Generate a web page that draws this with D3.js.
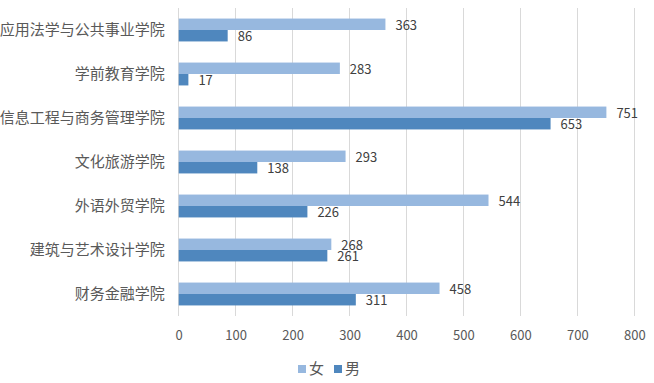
<!DOCTYPE html>
<html><head><meta charset="utf-8">
<script src="https://cdn.jsdelivr.net/npm/d3@7"></script>
<style>body{margin:0;background:#fff}svg{display:block}text{font-family:"Noto Sans CJK SC","Noto Sans",sans-serif}</style>
</head><body><svg id="c" width="654" height="383"></svg>
<script>
const categories = ["应用法学与公共事业学院","学前教育学院","信息工程与商务管理学院","文化旅游学院","外语外贸学院","建筑与艺术设计学院","财务金融学院"];
const female = [363,283,751,293,544,268,458];
const male = [86,17,653,138,226,261,311];
const seriesNames = ["女","男"];
const colors = ["#97B8DF","#4F87BE"];
const ticks = [0,100,200,300,400,500,600,700,800];

(function(){
const svg = d3.select("#c");
const pL = 178.7, pR = 634.3, pT = 8, pB = 316;
const x = d3.scaleLinear().domain([0,800]).range([pL,pR]);
const y = d3.scaleBand().domain(categories).range([pT,pB]).paddingInner(0.48).paddingOuter(0.24);
const sub = d3.scaleBand().domain(seriesNames).range([0,y.bandwidth()]);

svg.append("g").selectAll("line").data(ticks).join("line")
  .attr("x1",d=>x(d)).attr("x2",d=>x(d)).attr("y1",pT).attr("y2",pB)
  .attr("stroke","#D9D9D9").attr("stroke-width",1).attr("shape-rendering","crispEdges");

const xa = svg.append("g").attr("transform",`translate(0,${pB})`)
  .call(d3.axisBottom(x).tickValues(ticks).tickSize(0).tickPadding(15));
xa.select(".domain").remove();
xa.selectAll("text").attr("font-size","13px").attr("fill","#595959").attr("font-family","'Open Sans','Noto Sans',sans-serif");

const ya = svg.append("g").attr("transform",`translate(${pL},0)`)
  .call(d3.axisLeft(y).tickSize(0).tickPadding(14));
ya.select(".domain").remove();
ya.selectAll("text").attr("font-size","15px").attr("fill","#595959");

const data = [female, male];
data.forEach((vals,si)=>{
  const g = svg.append("g");
  g.selectAll("rect").data(vals).join("rect")
    .attr("x",x(0)).attr("y",(d,i)=>y(categories[i])+sub(seriesNames[si]))
    .attr("width",d=>x(d)-x(0)).attr("height",sub.bandwidth())
    .attr("fill",colors[si]);
  g.selectAll("text").data(vals).join("text")
    .attr("x",d=>x(d)+10).attr("y",(d,i)=>y(categories[i])+sub(seriesNames[si])+sub.bandwidth()/2)
    .attr("dy","0.42em").attr("font-size","13px").attr("fill","#404040")
    .attr("font-family","'Open Sans','Noto Sans',sans-serif")
    .text(d=>d);
});

const lg = svg.append("g");
const items = [{n:seriesNames[0],c:colors[0],x:298},{n:seriesNames[1],c:colors[1],x:334}];
items.forEach(it=>{
  lg.append("rect").attr("x",it.x).attr("y",365).attr("width",8).attr("height",8).attr("fill",it.c);
  lg.append("text").attr("x",it.x+11).attr("y",369).attr("dy","0.35em").attr("font-size","15px").attr("fill","#595959").text(it.n);
});
})();
</script></body></html>
